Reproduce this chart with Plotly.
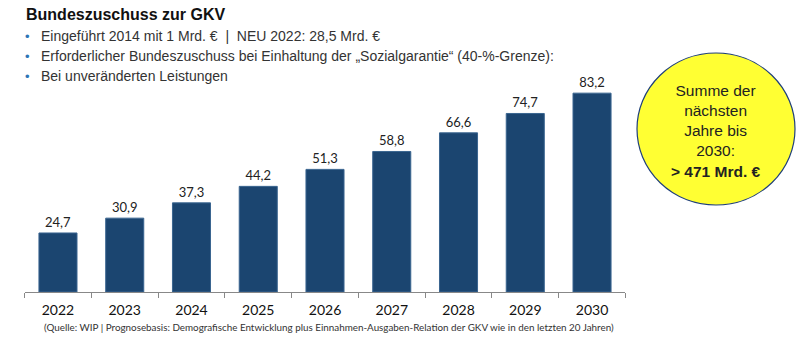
import plotly.graph_objects as go

years = ["2022", "2023", "2024", "2025", "2026", "2027", "2028", "2029", "2030"]
values = [24.7, 30.9, 37.3, 44.2, 51.3, 58.8, 66.6, 74.7, 83.2]
labels = ["24,7", "30,9", "37,3", "44,2", "51,3", "58,8", "66,6", "74,7", "83,2"]

title = "Bundeszuschuss zur GKV"
bullets = [
    "Eingeführt 2014 mit 1 Mrd. €  |  NEU 2022: 28,5 Mrd. €",
    "Erforderlicher Bundeszuschuss bei Einhaltung der „Sozialgarantie“ (40-%-Grenze):",
    "Bei unveränderten Leistungen",
]
circle_lines = ["Summe der", "nächsten", "Jahre bis", "2030:", "<b>> 471 Mrd. €</b>"]
footnote = "(Quelle: WIP | Prognosebasis: Demografische Entwicklung plus Einnahmen-Ausgaben-Relation der GKV wie in den letzten 20 Jahren)"

W, H = 800, 353
LATO = "Lato, Open Sans, sans-serif"
SANS = "Liberation Sans, Arial, sans-serif"

fig = go.Figure()
fig.add_trace(go.Bar(
    x=years, y=values, text=labels, textposition="outside",
    textfont=dict(family=LATO, size=13, color="#222222"),
    marker=dict(color="#1B4570", line=dict(color="#3A6590", width=1)),
    cliponaxis=False, width=0.57,
))

base_px = 292
top_px = 80
x0, x1 = 24.6, 625.4
fig.update_layout(
    width=W, height=H,
    margin=dict(l=0, r=0, t=0, b=0),
    paper_bgcolor="white", plot_bgcolor="white",
    showlegend=False,
    xaxis=dict(
        domain=[x0 / W, x1 / W],
        ticks="outside", tickson="boundaries", ticklen=5, tickcolor="#888888",
        showline=True, linecolor="#888888", linewidth=1,
        tickfont=dict(family=LATO, size=14, color="#111111"),
        ticklabelstandoff=5,
        showgrid=False, zeroline=False,
    ),
    yaxis=dict(
        domain=[(H - base_px) / H, (H - top_px) / H],
        range=[0, (base_px - top_px) / 2.39],
        visible=False, showgrid=False, zeroline=False,
    ),
)

# Title and bullets
fig.add_annotation(xref="paper", yref="paper", x=24 / W, y=1 - 14 / H,
                   xanchor="left", yanchor="middle", showarrow=False,
                   text="<b>" + title + "</b>",
                   font=dict(family=SANS, size=16, color="#111111"))
for i, b in enumerate(bullets):
    yy = 36 + 20 * i
    fig.add_annotation(xref="paper", yref="paper", x=23 / W, y=1 - yy / H,
                       xanchor="left", yanchor="middle", showarrow=False,
                       text="•", font=dict(family=SANS, size=13, color="#2E75B6"))
    fig.add_annotation(xref="paper", yref="paper", x=39 / W, y=1 - yy / H,
                       xanchor="left", yanchor="middle", showarrow=False,
                       text=b, font=dict(family=SANS, size=14, color="#333333"))

# Yellow circle
cx, cy, rx, ry = 716, 129, 79, 76
fig.add_shape(type="circle", xref="paper", yref="paper",
              x0=(cx - rx) / W, x1=(cx + rx) / W,
              y0=1 - (cy + ry) / H, y1=1 - (cy - ry) / H,
              fillcolor="#FFFF33", line=dict(color="#1F3F7A", width=1.2))
fig.add_annotation(xref="paper", yref="paper", x=cx / W, y=1 - 131 / H,
                   xanchor="center", yanchor="middle", showarrow=False,
                   text="<br>".join(circle_lines), align="center",
                   font=dict(family=SANS, size=15.5, color="#222222"))

# Footnote
fig.add_annotation(xref="paper", yref="paper", x=42 / W, y=1 - 327 / H,
                   xanchor="left", yanchor="middle", showarrow=False,
                   text=footnote,
                   font=dict(family=LATO, size=9.85, color="#333333"))

fig.write_html("out.html")
